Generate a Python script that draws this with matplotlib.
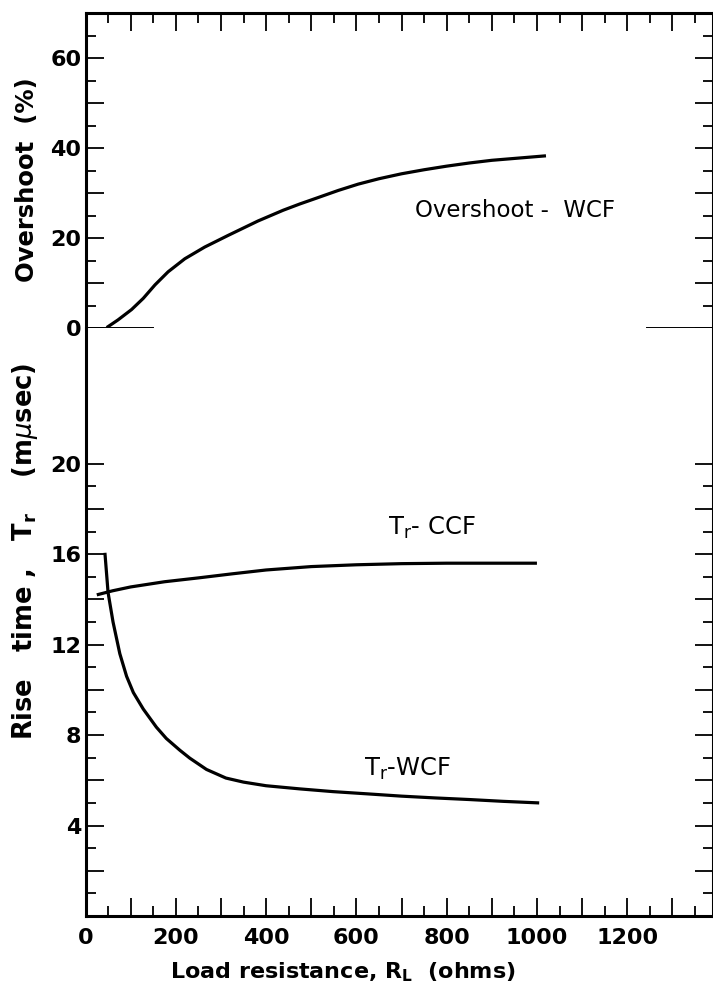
import matplotlib
matplotlib.use('Agg')
import matplotlib.pyplot as plt
import numpy as np
from matplotlib.ticker import MultipleLocator, FixedLocator, FuncFormatter

# values
os_x = [47, 72, 102, 128, 154, 183, 220, 264, 316, 382, 438, 475, 512, 560,
        604, 650, 700, 750, 800, 850, 900, 960, 1020]
os_wcf = [0.1, 1.8, 4.1, 6.6, 9.6, 12.5, 15.4, 18.0, 20.6, 23.8, 26.2, 27.6,
          28.9, 30.6, 32.0, 33.2, 34.3, 35.2, 36.0, 36.7, 37.3, 37.8, 38.3]

ccf_x = [25, 60, 100, 175, 250, 325, 400, 500, 600, 700, 800, 900, 1000]
tr_ccf = [14.2, 14.38, 14.55, 14.78, 14.95, 15.13, 15.3, 15.45, 15.53, 15.58,
          15.6, 15.6, 15.6]

wcf_x = [43, 50, 61, 76, 91, 106, 128, 157, 179, 209, 231, 268, 311, 350, 400,
         475, 548, 625, 700, 775, 850, 925, 1005]
tr_wcf = [16.06, 14.3, 13.0, 11.6, 10.6, 9.88, 9.15, 8.35, 7.85, 7.33, 6.98,
          6.48, 6.1, 5.92, 5.76, 5.62, 5.5, 5.4, 5.3, 5.22, 5.15, 5.07, 5.0]

x_labels = [0, 200, 400, 600, 800, 1000, 1200]
os_labels = [0, 20, 40, 60]
tr_labels = [4, 8, 12, 16, 20]

plt.rcParams['font.family'] = 'DejaVu Sans'
plt.rcParams['mathtext.fontset'] = 'dejavusans'

XMAX = 1390
fig = plt.figure(figsize=(7.13, 10), dpi=100)
left = 85.5 / 713
ax1 = fig.add_axes([left, 0.672, 1.0 - left, 0.3147])
ax2 = fig.add_axes([left, 0.084, 1.0 - left, 0.588], sharex=ax1)

lw_sp = 2.2
for ax in (ax1, ax2):
    for s in ax.spines.values():
        s.set_linewidth(lw_sp)
ax1.spines['bottom'].set_visible(False)
ax2.spines['top'].set_visible(False)

# curves
ax1.plot(os_x, os_wcf, color='black', lw=2.3, solid_capstyle='butt', solid_joinstyle='round')
ax2.plot(ccf_x, tr_ccf, color='black', lw=2.3, solid_capstyle='butt', solid_joinstyle='round')
ax2.plot(wcf_x, tr_wcf, color='black', lw=2.3, solid_capstyle='butt', solid_joinstyle='round')

# broken zero line of overshoot panel
ax1.axhline(0, xmin=0, xmax=150 / XMAX, color='black', lw=1.4)
ax1.axhline(0, xmin=1243 / XMAX, xmax=1, color='black', lw=1.4)

ax1.set_xlim(0, XMAX)
ax1.set_ylim(0, 70)
ax2.set_ylim(0, 26)

# x ticks
ax2.xaxis.set_major_locator(MultipleLocator(100))
ax2.xaxis.set_minor_locator(MultipleLocator(50))
ax2.xaxis.set_major_formatter(FuncFormatter(
    lambda v, p: f'{int(v)}' if int(round(v)) in x_labels else ''))

# y ticks
ax1.yaxis.set_major_locator(FixedLocator(np.arange(0, 61, 10)))
ax1.yaxis.set_minor_locator(FixedLocator(np.arange(0, 70, 5)))
ax1.yaxis.set_major_formatter(FuncFormatter(
    lambda v, p: f'{int(v)}' if int(round(v)) in os_labels else ''))
ax2.yaxis.set_major_locator(FixedLocator(np.arange(0, 21, 2)))
ax2.yaxis.set_minor_locator(FixedLocator(np.arange(0, 21, 1)))
ax2.yaxis.set_major_formatter(FuncFormatter(
    lambda v, p: f'{int(v)}' if int(round(v)) in tr_labels else ''))

ax1.tick_params(axis='x', which='both', direction='in', top=True, bottom=False,
                labelbottom=False, labeltop=False, width=1.3)
ax2.tick_params(axis='x', which='both', direction='in', top=False, bottom=True,
                width=1.3, pad=9)
for ax in (ax1, ax2):
    ax.tick_params(axis='y', which='both', direction='in', left=True, right=True,
                   width=1.3, pad=3)
    ax.tick_params(which='major', length=13)
    ax.tick_params(which='minor', length=7)
    for t in ax.get_xticklabels() + ax.get_yticklabels():
        t.set_fontsize(16)
        t.set_fontweight('bold')

# curve labels
ax1.text(951, 26.1, 'Overshoot -  WCF', fontsize=16.5, ha='center', va='center')
ax2.text(768, 17.15, r'T$_\mathregular{r}$- CCF', fontsize=17.5, ha='center', va='center')
ax2.text(714, 6.49, r'T$_\mathregular{r}$-WCF', fontsize=17.5, ha='center', va='center')

# axis labels
fig.text(27 / 713, 1 - 180 / 1000, 'Overshoot  (%)', rotation=90, fontsize=17.5,
         fontweight='bold', ha='center', va='center')
fig.text(25 / 713, 1 - 551 / 1000, r'Rise   time ,   T$_\mathregular{r}$    (m$\mu$sec)',
         rotation=90, fontsize=18.5, fontweight='bold', ha='center', va='center')
fig.text(343 / 713, 1 - 972 / 1000, r'Load resistance, R$_\mathregular{L}$  (ohms)',
         fontsize=16, fontweight='bold', ha='center', va='center')

fig.savefig('out.png', dpi=100)
